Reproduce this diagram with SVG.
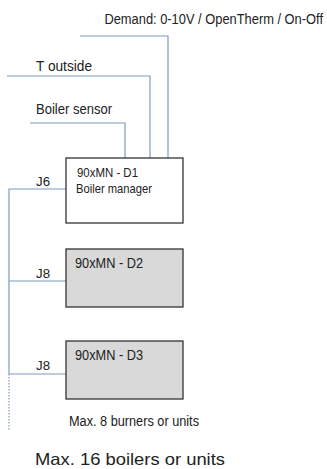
<svg xmlns="http://www.w3.org/2000/svg" width="327" height="469" viewBox="0 0 327 469">
<style>
text{font-family:"Liberation Sans",Arial,sans-serif;fill:#222}
.lbl{font-size:14px}
.sm{font-size:13px}
.big{font-size:14.5px}
.w{fill:none;stroke:#7d9cbf;stroke-width:1.2}
.box{stroke:#333;stroke-width:1.3}
</style>
<rect width="327" height="469" fill="#fff"/>
<g id="connectors">
<polyline class="w" points="80,36 168,36 168,158"/>
<polyline class="w" points="7,76 150,76 150,158"/>
<polyline class="w" points="30,123 125,123 125,158"/>
<polyline class="w" points="66,189 9,189 9,374"/>
<line class="w" x1="9" y1="281" x2="66" y2="281"/>
<line class="w" x1="9" y1="374" x2="66" y2="374"/>
<line class="w" x1="9" y1="374" x2="9" y2="430" stroke-dasharray="1.5,1.5"/>
<text class="lbl" x="323" y="24" text-anchor="end" transform="translate(323,0) scale(0.92,1) translate(-323,0)">Demand: 0-10V / OpenTherm / On-Off</text>
<text class="lbl" x="36" y="71" textLength="56" lengthAdjust="spacingAndGlyphs">T outside</text>
<text class="lbl" x="36" y="114" textLength="76" lengthAdjust="spacingAndGlyphs">Boiler sensor</text>
<text class="sm" x="36" y="186" textLength="14" lengthAdjust="spacingAndGlyphs">J6</text>
<text class="sm" x="36" y="278" textLength="14" lengthAdjust="spacingAndGlyphs">J8</text>
<text class="sm" x="36" y="370" textLength="14" lengthAdjust="spacingAndGlyphs">J8</text>
</g>
<g id="d1">
<rect class="box" x="66" y="158" width="117" height="65" fill="#fff"/>
<text class="sm" x="77" y="177" textLength="61" lengthAdjust="spacingAndGlyphs">90xMN - D1</text>
<text class="sm" x="76" y="193" textLength="76" lengthAdjust="spacingAndGlyphs">Boiler manager</text>
</g>
<g id="d2">
<rect class="box" x="66" y="249" width="117" height="58" fill="#d9d9d9"/>
<text class="big" x="75" y="268" textLength="68" lengthAdjust="spacingAndGlyphs">90xMN - D2</text>
</g>
<g id="d3">
<rect class="box" x="66" y="341" width="117" height="58" fill="#d9d9d9"/>
<text class="big" x="75" y="360" textLength="68" lengthAdjust="spacingAndGlyphs">90xMN - D3</text>
</g>
<g id="notes">
<text class="lbl" x="69" y="426" textLength="130" lengthAdjust="spacingAndGlyphs">Max. 8 burners or units</text>
<text x="35" y="465" font-size="16.5" textLength="190" lengthAdjust="spacingAndGlyphs">Max. 16 boilers or units</text>
</g>
</svg>
